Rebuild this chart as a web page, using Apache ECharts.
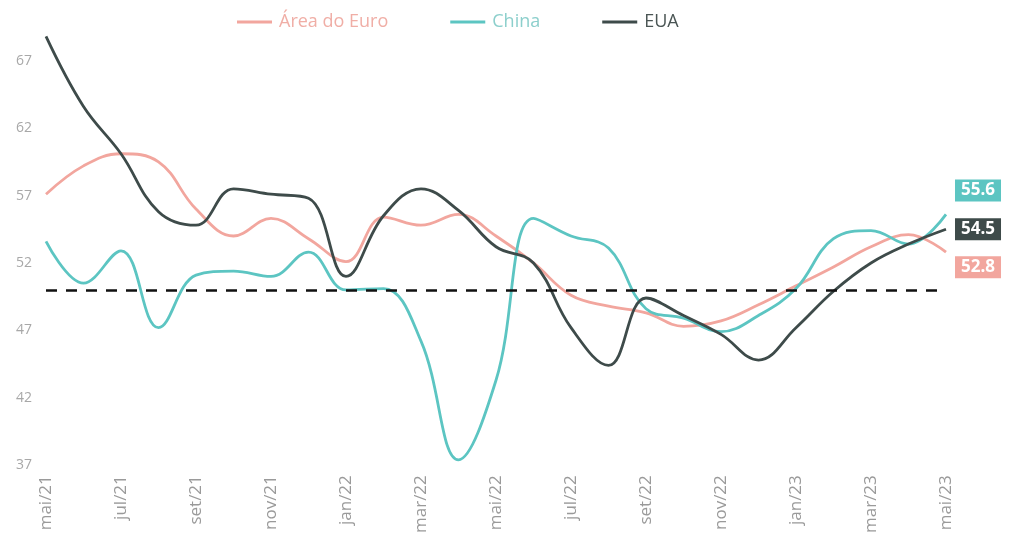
<!DOCTYPE html>
<html>
<head>
<meta charset="utf-8">
<script src="https://cdn.jsdelivr.net/npm/echarts@6/dist/echarts.min.js"></script>
<style>html,body{margin:0;padding:0;background:#fff}#c{width:1013px;height:536px}</style>
</head>
<body>
<div id="c"></div>
<script>
const categories = ['mai/21','jun/21','jul/21','ago/21','set/21','out/21','nov/21','dez/21','jan/22','fev/22','mar/22','abr/22','mai/22','jun/22','jul/22','ago/22','set/22','out/22','nov/22','dez/22','jan/23','fev/23','mar/23','abr/23','mai/23'];
const euro = [57.1,59.2,60.1,59.5,56.0,54.0,55.3,53.8,52.1,55.4,54.8,55.6,54.0,52.0,49.6,48.8,48.3,47.3,47.7,48.9,50.3,51.7,53.2,54.1,52.8];
const china = [53.6,50.5,52.9,47.2,51.1,51.4,51.0,52.8,50.0,50.1,46.2,37.4,43.3,55.3,54.0,53.1,48.6,47.9,46.9,48.1,50.1,53.8,54.4,53.4,55.6];
const eua = [68.8,63.6,60.1,55.8,54.8,57.5,57.1,56.8,51.0,55.5,57.5,55.9,53.2,52.0,47.2,44.4,49.4,48.1,46.7,44.8,47.2,49.9,52.0,53.4,54.5];
const refLevel = 50;
const seriesNames = ['Área do Euro','China','EUA'];
const colors = ['#f2a69e','#5cc5c2','#3e4b4a'];
const legendTextColors = ['#f0aea6','#8ccfcc','#4a5554'];

const chart = echarts.init(document.getElementById('c'));
function mk(name, data, color, dy, withRef) {
  const s = {
    name, type: 'line', data, smooth: 0.4, symbol: 'none',
    lineStyle: { color, width: 2.8 }, itemStyle: { color },
    endLabel: {
      show: true, formatter: p => p.value.toFixed(1),
      backgroundColor: color, color: '#fff', fontWeight: 'bold', fontSize: 17,
      fontFamily: 'Open Sans', padding: [3, 6, 2, 6], offset: [3, dy], distance: 6
    }
  };
  if (withRef) {
    s.markLine = {
      silent: true, symbol: 'none', label: { show: false },
      lineStyle: { color: '#111', type: [11, 9], width: 2.5 },
      data: [{ yAxis: refLevel }]
    };
  }
  return s;
}
chart.setOption({
  animation: false,
  legend: {
    top: 8, left: 232, itemGap: 62, itemWidth: 35, itemHeight: 3, icon: 'rect',
    data: seriesNames.map((n, i) => ({ name: n, textStyle: { color: legendTextColors[i] } })),
    textStyle: { fontSize: 18, fontFamily: 'Open Sans', padding: [0, 0, 0, 2] }
  },
  grid: { left: 46, right: 67, top: 27, bottom: 68 },
  xAxis: {
    type: 'category', data: categories, boundaryGap: false,
    axisLine: { show: false }, axisTick: { show: false },
    axisLabel: { interval: 1, rotate: 90, color: '#9a9a9a', fontSize: 17, fontFamily: 'Open Sans', margin: 10 }
  },
  yAxis: {
    type: 'value', min: 37, max: 69.5, interval: 5,
    axisLine: { show: false }, axisTick: { show: false }, splitLine: { show: false },
    axisLabel: { showMaxLabel: false, color: '#a8a8a8', fontSize: 14, fontFamily: 'Open Sans', margin: 14 }
  },
  series: [
    mk(seriesNames[0], euro, colors[0], 15, true),
    mk(seriesNames[1], china, colors[1], -24, false),
    mk(seriesNames[2], eua, colors[2], 0, false)
  ]
});
</script>
</body>
</html>
